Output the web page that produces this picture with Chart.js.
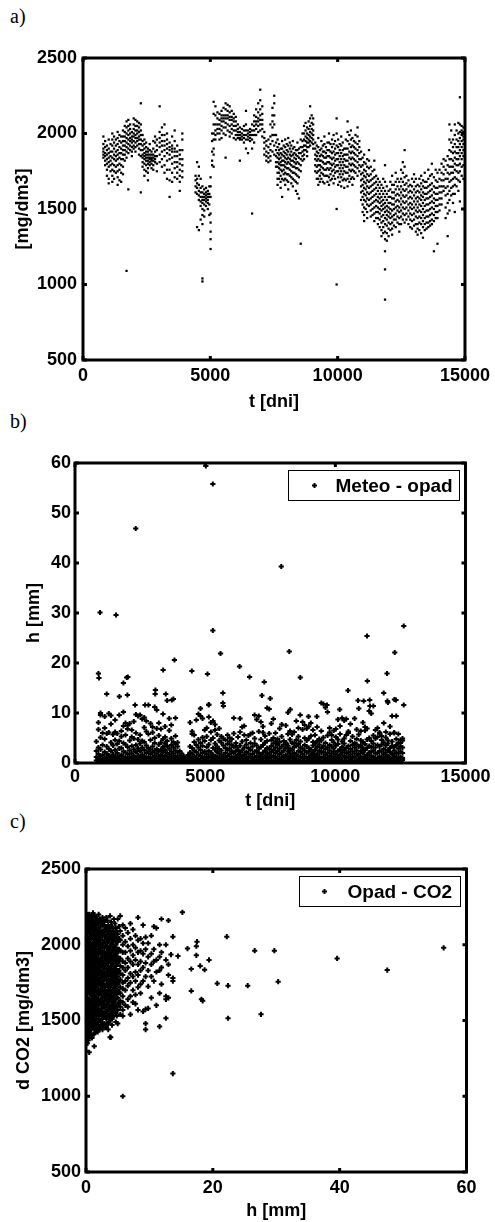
<!DOCTYPE html>
<html>
<head>
<meta charset="utf-8">
<script src="https://cdn.jsdelivr.net/npm/chart.js@4"></script>
<style>
  body { margin: 0; background: #fff; width: 495px; height: 1222px; position: relative; overflow: hidden; }
  .tag { position: absolute; left: 10px; font-family: "Liberation Serif", "Times New Roman", serif; font-size: 20px; line-height: 20px; color: #000; }
  canvas { position: absolute; left: 0; }
</style>
</head>
<body>
<div class="tag" style="top:6px">a)</div>
<div class="tag" style="top:411px">b)</div>
<div class="tag" style="top:811px">c)</div>
<canvas id="chartA" width="495" height="380" style="top:40px"></canvas>
<canvas id="chartB" width="495" height="380" style="top:440px"></canvas>
<canvas id="chartC" width="495" height="382" style="top:840px"></canvas>
<script>
// a) CO2 [mg/dm3] vs time [days] -- columns: [t, values...]
const co2Days800to2300 = [
  [800, 1980,1930,1900,1880,1860,1840],
  [870, 1950,1910,1870,1850,1820,1790],
  [940, 1920,1890,1860,1830,1800,1760,1720],
  [1010, 1960,1900,1870,1840,1810,1780,1700,1670],
  [1080, 1930,1880,1850,1820,1790,1750],
  [1150, 2000,1960,1920,1880,1840,1800,1760,1720,1680],
  [1220, 1980,1940,1900,1860,1830,1790,1750,1700],
  [1290, 1960,1920,1880,1850,1820,1780,1740],
  [1360, 2010,1970,1930,1890,1860,1830,1790,1750,1710,1660],
  [1430, 1990,1950,1910,1870,1840,1800,1760,1690],
  [1500, 1980,1940,1900,1870,1830,1790,1740,1680],
  [1570, 2020,1980,1950,1920,1890,1860,1830,1780,1730],
  [1640, 2050,2010,1980,1950,1920,1890,1860,1820],
  [1710, 2080,2040,2000,1970,1940,1910,1880,1840,1090],
  [1780, 2090,2050,2020,1990,1960,1930,1900,1870,1630],
  [1850, 2060,2030,2000,1970,1950,1920,1890],
  [1920, 2010,1980,1960,1940,1910,1880,1850],
  [1990, 2100,2060,2030,2000,1980,1950,1920,1900],
  [2060, 2090,2050,2020,1990,1970,1940,1910,1880],
  [2130, 2080,2050,2020,2000,1970,1950,1920],
  [2200, 2070,2040,2010,1980,1960,1930,1900,1860],
  [2270, 2200,2060,2020,1990,1960,1930,1890,1850,1610]
];
const co2Days2300to4000 = [
  [2340, 1990,1950,1920,1890,1860,1840,1810,1780],
  [2410, 1960,1930,1900,1870,1850,1830,1800,1760,1720],
  [2480, 1940,1910,1880,1860,1840,1820,1790,1750],
  [2550, 1900,1880,1860,1840,1820,1800,1770,1740,1690],
  [2620, 1930,1890,1860,1840,1830,1810,1790],
  [2690, 1880,1860,1840,1830,1820,1800,1770],
  [2760, 1950,1900,1860,1840,1820,1790,1760],
  [2830, 1980,1940,1880,1850,1830,1810],
  [2900, 1960,1920,1890,1850,1800,1750],
  [3010, 2180,2010,1970,1940,1910,1860,1810],
  [3100, 2040,1990,1950,1920,1880,1830,1780],
  [3200, 2060,1990,1950,1920,1890,1850,1790,1740],
  [3300, 2000,1960,1930,1900,1870,1820,1760,1700],
  [3400, 1940,1910,1890,1860,1830,1760,1690,1580],
  [3500, 1980,1920,1900,1880,1840,1800,1740,1680],
  [3600, 2020,1950,1900,1880,1850,1810,1770,1710],
  [3700, 1920,1880,1850,1810,1780,1740,1700],
  [3800, 1890,1860,1830,1800,1760,1720,1680,1620],
  [3900, 2000,1960,1890,1830,1790,1750,1710]
];
const co2Days4400to5000 = [
  [4420, 1720,1690,1650,1610],
  [4480, 1810,1700,1670,1640,1600,1380],
  [4550, 1780,1720,1660,1620,1590,1560,1360],
  [4620, 1700,1640,1610,1580,1550,1520,1430],
  [4690, 1650,1610,1580,1560,1540,1500,1460,1400,1040,1020],
  [4760, 1630,1600,1580,1560,1530,1490,1450],
  [4830, 1640,1610,1590,1570,1550,1520],
  [4900, 1620,1600,1580,1560,1540,1500],
  [4960, 1650,1600,1580,1530,1460],
  [5010, 1710,1650,1580,1470,1410,1350,1300,1235]
];
const co2Days5000to7500 = [
  [5070, 2000,1950,1880,1820,1790],
  [5130, 2210,2130,2060,2000,1960,1900,1860,1780],
  [5200, 2180,2120,2060,2020,1990,1960],
  [5280, 2140,2100,2060,2030,2000],
  [5360, 2130,2090,2060,2030,2000,1960],
  [5440, 2150,2120,2100,2080,2050,2020,1970],
  [5520, 2170,2120,2100,2080,2040,2000],
  [5600, 2200,2160,2120,2100,2070,2040,1990,1840],
  [5680, 2190,2150,2120,2100,2060,2020],
  [5760, 2180,2140,2110,2090,2050,2010,1980],
  [5840, 2150,2110,2090,2060,2030,2000],
  [5920, 2130,2100,2080,2050,2020,1970],
  [6000, 2110,2080,2050,2020,1990,1960],
  [6080, 2060,2030,2010,1990,1970],
  [6160, 2040,2010,1990,1970,1960,1820],
  [6240, 2030,2000,1980,1960],
  [6320, 2050,2020,1990,1970,1940],
  [6400, 2150,2060,2020,1990,1960,1900],
  [6480, 2020,2000,1980,1960,1870],
  [6560, 2030,2010,1990,1970,1950],
  [6640, 2060,2020,1990,1960,1900,1470],
  [6720, 2120,2080,2050,2020,1990,1940],
  [6800, 2160,2110,2080,2060,2030,1990],
  [6880, 2200,2140,2100,2080,2050,2010],
  [6960, 2290,2220,2160,2120,2090,2060,2020],
  [7040, 2180,2130,2090,2060,2030,1980],
  [7120, 2010,1970,1940,1900,1860],
  [7200, 1950,1920,1880,1850,1820],
  [7280, 1960,1910,1870,1840,1810],
  [7360, 2060,1980,1930,1890,1850,1820],
  [7440, 2170,2120,2080,2040,1990,1950,1880],
  [7510, 2250,2200,2120,2060,1990,1920,1860]
];
const co2Days7500to9100 = [
  [7580, 1990,1940,1890,1850,1810,1780],
  [7640, 1960,1910,1870,1840,1810,1780,1740,1700,1660],
  [7700, 1930,1890,1860,1830,1800,1770,1740,1700],
  [7760, 1900,1870,1840,1810,1790,1760,1720,1680,1640],
  [7820, 1950,1900,1860,1820,1790,1750,1700,1580],
  [7880, 1920,1880,1850,1820,1790,1760,1730,1690],
  [7940, 1960,1910,1870,1840,1810,1780,1740,1700,1660],
  [8000, 1930,1890,1860,1830,1800,1770,1730,1690],
  [8060, 1970,1920,1880,1840,1810,1770,1730,1680,1630],
  [8120, 1940,1900,1860,1830,1800,1760,1720],
  [8180, 1920,1880,1850,1820,1790,1750,1710,1670],
  [8240, 1950,1900,1860,1820,1780,1740,1700,1650],
  [8300, 1910,1870,1840,1810,1780,1740,1690],
  [8360, 1890,1860,1830,1800,1770,1730,1680,1620],
  [8420, 1940,1890,1850,1810,1770,1720,1670,1600],
  [8480, 1900,1870,1840,1800,1760,1710,1570],
  [8550, 1960,1910,1870,1830,1790,1750,1270],
  [8620, 2000,1950,1910,1880,1850,1820],
  [8680, 2050,2000,1960,1920,1890,1860,1830],
  [8740, 2070,2020,1980,1950,1920,1890],
  [8800, 2040,2000,1970,1940,1910,1880,1850],
  [8860, 2080,2030,1990,1960,1940,1910],
  [8920, 2180,2100,2050,2010,1980,1950,1920],
  [8980, 2120,2070,2030,2000,1970,1940],
  [9040, 2100,2060,2020,1990,1960,1930,1900]
];
const co2Days9100to10900 = [
  [9120, 1940,1900,1860,1830,1790,1750],
  [9180, 1920,1880,1850,1820,1780,1740,1700],
  [9240, 1970,1910,1870,1830,1790,1750,1700,1660],
  [9300, 1890,1850,1820,1790,1760,1720,1680],
  [9360, 1950,1900,1860,1820,1780,1740,1700],
  [9420, 1920,1880,1850,1810,1770,1730,1680],
  [9480, 1980,1930,1880,1840,1800,1760,1720,1670],
  [9540, 1910,1870,1840,1800,1760,1720],
  [9600, 1940,1890,1850,1810,1770,1720,1680],
  [9660, 2000,1940,1890,1850,1810,1760,1710,1660],
  [9720, 1930,1880,1840,1800,1770,1730,1690],
  [9780, 1960,1910,1870,1830,1790,1750,1700],
  [9840, 1990,1930,1880,1840,1800,1760,1720,1670],
  [9900, 1950,1900,1860,1820,1780,1740,1700],
  [9960, 2100,2000,1920,1870,1830,1790,1750,1500,1000],
  [10020, 1960,1910,1870,1830,1790,1750,1710,1660],
  [10080, 1930,1890,1850,1810,1770,1730,1680],
  [10140, 1980,1920,1870,1830,1790,1750,1710,1650],
  [10200, 1940,1890,1850,1810,1770,1730,1690],
  [10260, 1900,1860,1830,1790,1750,1700,1640],
  [10320, 1960,1900,1860,1820,1780,1740,1690],
  [10390, 2080,2010,1950,1900,1860,1820,1780,1740,1700,1650],
  [10460, 1990,1930,1880,1840,1800,1760,1720,1680],
  [10520, 2020,1960,1910,1870,1830,1790,1750,1700],
  [10580, 1970,1920,1880,1840,1800,1760,1710,1660],
  [10640, 1950,1910,1870,1830,1790,1750,1700],
  [10700, 1990,1940,1900,1860,1820,1780,1740],
  [10780, 2040,1980,1930,1890,1850,1810,1770,1720],
  [10850, 1950,1910,1870,1830,1790,1750]
];
const co2Days10900to12450 = [
  [10920, 1880,1830,1780,1730,1690,1650,1610,1560],
  [10980, 1840,1790,1740,1700,1660,1620,1580,1530,1480],
  [11040, 1860,1810,1760,1720,1680,1640,1600,1560,1510,1460,1420],
  [11100, 1800,1750,1710,1670,1630,1590,1550,1500],
  [11160, 1830,1780,1730,1690,1650,1610,1570,1530,1480,1440],
  [11230, 1890,1820,1770,1720,1680,1640,1600,1560,1520],
  [11300, 1780,1730,1690,1650,1610,1570,1530,1490,1450],
  [11370, 1750,1700,1660,1620,1580,1540,1500,1460],
  [11440, 1820,1760,1710,1670,1630,1590,1550,1510,1470,1420],
  [11510, 1720,1680,1640,1600,1560,1520,1480,1440],
  [11580, 1700,1660,1620,1580,1550,1510,1480,1440,1400],
  [11650, 1680,1640,1600,1570,1540,1500,1470,1430,1380],
  [11720, 1660,1620,1580,1550,1520,1490,1450,1410,1360,1320],
  [11790, 1700,1640,1600,1560,1530,1500,1460,1420,1380,1340],
  [11860, 1790,1680,1620,1580,1540,1510,1480,1440,1400,1350,1300,1220,1100,900],
  [11930, 1650,1600,1560,1520,1490,1460,1430,1390,1340,1290],
  [12000, 1620,1580,1540,1510,1480,1450,1410,1370,1320],
  [12070, 1680,1630,1580,1540,1500,1470,1440,1400,1360],
  [12140, 1720,1660,1610,1570,1530,1490,1450,1410,1370,1330],
  [12210, 1660,1610,1570,1530,1500,1460,1430,1390],
  [12280, 1740,1680,1630,1590,1550,1510,1470,1430,1380],
  [12350, 1700,1650,1600,1560,1520,1490,1450,1410],
  [12420, 1680,1630,1590,1550,1510,1480,1440,1400,1350]
];
const co2Days12450to15000 = [
  [12490, 1760,1700,1650,1610,1570,1530,1490,1450,1400],
  [12560, 1810,1740,1680,1630,1590,1550,1510,1470,1430],
  [12630, 1890,1780,1710,1660,1620,1580,1540,1500,1460,1410],
  [12700, 1720,1670,1630,1590,1550,1510,1470,1430],
  [12780, 1690,1650,1610,1570,1530,1490,1450,1400],
  [12850, 1660,1620,1580,1540,1510,1470,1430,1380],
  [12920, 1700,1650,1610,1570,1530,1500,1460,1420,1370],
  [13000, 1730,1680,1630,1590,1550,1510,1470,1430,1390],
  [13070, 1700,1650,1610,1570,1530,1490,1450,1400,1350],
  [13140, 1660,1620,1580,1550,1510,1480,1440,1400,1370,1330],
  [13210, 1700,1650,1610,1570,1530,1490,1450,1410,1360],
  [13280, 1720,1670,1630,1590,1560,1520,1480,1440,1400,1340],
  [13350, 1690,1650,1610,1580,1540,1500,1460,1420,1380,1310],
  [13420, 1740,1680,1640,1600,1560,1520,1480,1440,1400,1360],
  [13490, 1680,1640,1600,1570,1530,1490,1450,1410,1370],
  [13560, 1760,1700,1650,1610,1570,1530,1490,1450,1410,1380],
  [13630, 1720,1660,1620,1580,1540,1500,1460,1420,1390],
  [13700, 1800,1730,1670,1630,1590,1550,1510,1470,1430,1400],
  [13780, 1710,1650,1610,1570,1540,1500,1460,1420,1220],
  [13850, 1760,1690,1640,1600,1560,1520,1480,1440],
  [13920, 1740,1680,1640,1600,1560,1520,1480,1440,1270],
  [14000, 1760,1700,1650,1610,1570,1530,1490],
  [14080, 1800,1740,1690,1650,1610,1570,1530],
  [14160, 1830,1780,1730,1690,1650,1620],
  [14240, 1820,1760,1700,1640,1590,1510,1440],
  [14320, 1850,1790,1740,1700,1650,1600,1540,1470,1320],
  [14390, 2060,1960,1890,1830,1780,1730,1680,1620,1560,1490],
  [14460, 2020,1940,1880,1830,1780,1740,1690,1640,1590],
  [14530, 1960,1910,1870,1820,1780,1740,1700,1650,1600,1540],
  [14600, 2060,1990,1930,1880,1840,1800,1760,1710,1660,1600,1480],
  [14670, 2020,1960,1910,1870,1830,1790,1750,1700,1650],
  [14740, 2070,2000,1950,1910,1870,1830,1790,1740,1690,1620],
  [14800, 2240,2060,2010,1970,1930,1890,1850,1800,1750,1680,1550],
  [14870, 2050,2020,1990,1950,1910,1870,1830,1780,1720],
  [14940, 2040,2010,1980,1960,1930,1890,1850,1790,1700,1500]
];

// b) rainfall h [mm] vs time [days] -- columns: [t, values...] plus single high days
const rainDaily = [
  [820, 0,0.5,1.2,2.4,4.3], [900, 0,0.3,0.9,1.8,3.1,6.7,8.1], [980, 0,0.6,1.4,2.7,5.1,10.0,9.6],
  [1060, 0,0.2,0.8,1.6,3.6,6.0], [1140, 0,0.5,1.1,2.2,4.8,9.3,7.0], [1220, 0,0.3,1.0,1.9,3.3,5.9],
  [1300, 0,0.7,1.5,2.8,6.1,9.9], [1380, 0,0.4,1.2,2.4,4.1,7.8,9.5], [1460, 0,0.2,0.9,1.7,3.5,5.7],
  [1540, 0,0.6,1.3,2.6,4.6,6.2,8.6], [1620, 0,0.3,1.0,2.0,3.8,5.9], [1700, 0,0.5,1.4,2.9,4.4,9.6],
  [1780, 0,0.2,0.8,1.6,3.0,5.3,6.4], [1860, 0,0.6,1.2,2.3,4.0,7.4,10.2], [1940, 0,0.4,1.1,2.1,3.7,5.6,8.0],
  [2020, 0,0.3,0.9,1.8,3.2,6.8,7.5], [2100, 0,0.5,1.3,2.5,4.5,7.9], [2180, 0,0.2,1.0,1.9,3.4,5.2,6.6],
  [2260, 0,0.6,1.4,2.7,4.9,8.3], [2340, 0,0.4,1.1,2.2,3.6,6.0,9.7], [2420, 0,0.3,0.8,1.5,2.9,4.7,9.4],
  [2500, 0,0.5,1.2,2.4,3.9,5.6,9.6], [2580, 0,0.2,0.9,1.7,3.1,4.4,8.8], [2660, 0,0.6,1.3,2.6,4.2,7.1,9.1],
  [2740, 0,0.4,1.0,2.0,3.5,6.3,8.4], [2820, 0,0.3,1.2,2.3,3.0,5.8,11.6], [2900, 0,0.5,0.9,1.8,2.7,4.6,7.9],
  [2980, 0,0.2,1.1,2.1,3.3,6.1,7.2], [3060, 0,0.6,1.4,2.5,4.0,5.0,11.2], [3140, 0,0.4,1.0,1.9,2.8,6.9,10.6],
  [3220, 0,0.3,1.3,2.4,3.7,5.5,8.0], [3300, 0,0.5,0.8,1.6,2.6,4.1,6.8], [3380, 0,0.2,1.1,2.2,3.2,4.8,9.8],
  [3460, 0,0.6,1.4,2.6,3.9,5.2,7.3], [3540, 0,0.4,1.2,2.0,3.4,4.4,12.5], [3620, 0,0.3,0.9,1.7,2.9,6.5,8.9],
  [3700, 0,0.5,1.3,2.3,3.6,4.9,7.6], [3780, 0,0.2,1.0,1.9,3.1,4.2,12.8], [3860, 0,0.6,1.4,2.5,3.8,5.4,9.0],
  [3940, 0,0.4,1.1,2.1,3.3,4.1], [4020, 0,0.3,0.8,1.5,2.4], [4100, 0,0.5,1.2,1.9],
  [4180, 0,0.2,0.7,1.3], [4260, 0,0.4,1.0], [4340, 0,0.3,0.9,1.6],
  [4420, 0,0.5,1.2,2.1,3.3,8.1], [4500, 0,0.2,0.9,1.8,3.0,5.8,6.3], [4580, 0,0.6,1.3,2.5,4.2,5.6],
  [4660, 0,0.4,1.1,2.2,3.6,8.6], [4740, 0,0.3,0.8,1.7,3.1,4.7,9.8], [4820, 0,0.5,1.4,2.6,4.0,9.4,10.9],
  [4900, 0,0.2,1.0,2.0,3.4,5.1,8.9], [4980, 0,0.6,1.2,2.3,4.4,6.6], [5060, 0,0.4,0.9,1.8,3.2,5.3,7.0],
  [5140, 0,0.3,1.3,2.4,3.7,11.7,9.2], [5220, 0,0.5,1.1,2.1,4.6,6.2,8.1], [5300, 0,0.2,0.8,1.6,3.0,5.0,8.4],
  [5380, 0,0.6,1.4,2.7,3.9,6.6,7.7], [5460, 0,0.4,1.2,2.2,3.3,5.7], [5540, 0,0.3,1.0,1.9,2.8,4.5,6.9],
  [5620, 0,0.5,1.3,2.5,4.1,5.3], [5700, 0,0.2,0.9,1.7,3.5,11.4,4.9], [5780, 0,0.6,1.1,2.0,3.0,4.6],
  [5860, 0,0.4,1.4,2.6,3.8,5.6], [5940, 0,0.3,0.8,1.8,2.9,4.3,5.0], [6020, 0,0.5,1.2,2.3,3.6,4.8],
  [6100, 0,0.2,1.0,2.0,3.2,5.9,9.0], [6180, 0,0.6,1.3,2.4,3.4,4.0], [6260, 0,0.4,0.9,1.6,2.7,5.2],
  [6340, 0,0.3,1.1,2.1,3.5,8.9,6.2], [6420, 0,0.5,1.4,2.5,4.3,7.2], [6500, 0,0.2,0.8,1.7,3.1,5.6,7.4],
  [6580, 0,0.6,1.2,2.2,3.7,4.6], [6660, 0,0.4,1.0,1.9,3.0,5.5], [6740, 0,0.3,1.3,2.6,4.0,5.8],
  [6820, 0,0.5,0.9,1.8,3.3,6.0], [6900, 0,0.2,1.1,2.3,3.9,9.6,4.9], [6980, 0,0.6,1.4,2.4,3.5,8.7],
  [7060, 0,0.4,1.2,2.0,2.9,6.3,9.4], [7140, 0,0.3,0.8,1.6,3.2,4.7,8.2], [7220, 0,0.5,1.0,2.1,3.6,6.1,7.3],
  [7300, 0,0.2,1.3,2.5,4.1,5.4], [7380, 0,0.6,1.1,1.9,3.0,4.4,11.0], [7460, 0,0.4,0.9,1.7,2.8,5.9,10.8],
  [7540, 0,0.3,1.2,2.2,3.4,4.6,7.9], [7620, 0,0.5,1.4,2.6,3.9,5.0,8.8], [7700, 0,0.2,1.0,2.0,3.1,4.3,6.0],
  [7780, 0,0.6,1.3,2.4,3.6,4.8,4.0], [7860, 0,0.4,0.8,1.8,2.9,4.2,6.9], [7940, 0,0.3,1.1,2.1,3.3,5.3,7.7],
  [8020, 0,0.5,1.4,2.5,3.7,4.4], [8100, 0,0.2,0.9,1.6,3.0,4.1,7.5], [8180, 0,0.6,1.2,2.3,3.5,5.8,10.1],
  [8260, 0,0.4,1.0,1.9,2.8,4.7,6.4], [8340, 0,0.3,1.3,2.6,4.0,5.7], [8420, 0,0.5,1.1,2.0,3.2,4.0,6.2],
  [8500, 0,0.2,0.8,1.7,3.4,4.6,8.4], [8580, 0,0.6,1.4,2.4,3.8,5.3,7.0], [8660, 0,0.4,1.2,2.2,3.1,4.3],
  [8740, 0,0.3,0.9,1.8,2.9,6.7,8.2], [8820, 0,0.5,1.3,2.5,3.6,5.0,7.6], [8900, 0,0.2,1.0,2.1,3.3,4.5,6.9],
  [8980, 0,0.6,1.2,2.3,3.0,4.9,7.3], [9060, 0,0.4,0.8,1.6,2.7,5.4,8.0], [9140, 0,0.3,1.1,2.0,3.5,4.2,6.6],
  [9220, 0,0.5,1.4,2.6,3.9,5.6], [9300, 0,0.2,0.9,1.8,3.2,4.4,7.2], [9380, 0,0.6,1.3,2.4,3.7,4.8],
  [9460, 0,0.4,1.0,2.1,3.0,4.5,6.4], [9540, 0,0.3,1.2,2.2,3.4,5.1,11.8], [9620, 0,0.5,0.8,1.7,2.8,4.0,11.1],
  [9700, 0,0.2,1.1,2.0,3.1,5.5,10.2], [9780, 0,0.6,1.4,2.5,3.6,6.1,7.0], [9860, 0,0.4,0.9,1.9,3.3,4.6,5.6],
  [9940, 0,0.3,1.3,2.3,2.9,4.1,6.5], [10020, 0,0.5,1.0,1.8,3.5,5.2,6.8], [10100, 0,0.2,1.2,2.4,3.8,4.7,8.7],
  [10180, 0,0.6,0.8,1.6,2.7,5.8,7.4], [10260, 0,0.4,1.1,2.1,3.2,4.3,9.0], [10340, 0,0.3,1.4,2.6,3.9,4.9,8.5],
  [10420, 0,0.5,1.0,2.0,3.0,5.6,8.8], [10500, 0,0.2,1.3,2.2,3.4,6.0,6.3], [10580, 0,0.6,0.9,1.7,2.8,4.4,7.8],
  [10660, 0,0.4,1.2,2.3,3.6,5.3], [10740, 0,0.3,1.1,1.9,3.1,4.0,8.9], [10820, 0,0.5,1.4,2.5,3.7,4.8,6.7],
  [10900, 0,0.2,0.8,1.8,3.3,5.7,10.9], [10980, 0,0.6,1.2,2.4,3.5,4.5,6.4], [11060, 0,0.4,1.0,2.0,2.9,4.2,8.1],
  [11140, 0,0.3,1.3,2.6,3.8,6.5,7.2], [11220, 0,0.5,0.9,1.6,3.0,4.7,6.9], [11300, 0,0.2,1.1,2.1,3.4,5.0,10.4],
  [11380, 0,0.6,1.4,2.2,3.2,4.4,9.9], [11460, 0,0.4,1.2,2.5,3.9,5.5,11.4], [11540, 0,0.3,0.8,1.9,3.1,4.9,6.6],
  [11620, 0,0.5,1.0,2.0,3.6,5.2,7.0], [11700, 0,0.2,1.3,2.4,3.3,5.9,6.1], [11780, 0,0.6,1.1,2.3,3.7,4.6,5.4],
  [11860, 0,0.4,0.9,1.7,2.8,4.1,8.0], [11940, 0,0.3,1.2,2.1,3.5,5.1,6.2], [12020, 0,0.5,1.4,2.6,3.9,4.5,12.1],
  [12100, 0,0.2,1.0,2.2,3.0,5.8,7.3], [12180, 0,0.6,0.8,1.8,3.4,4.3,9.4], [12260, 0,0.4,1.3,2.5,3.2,6.0,6.1],
  [12340, 0,0.3,1.1,2.0,3.6,4.8,9.4], [12420, 0,0.5,0.9,1.9,2.9,4.0,5.8], [12500, 0,0.2,1.2,2.3,3.3,4.6,4.0],
  [12580, 0,0.6,1.0,2.0,3.1,4.9,4.5]
];
const rainHeavyDays = [
  [962,30.1],[1577,29.6],[2333,46.9],[5026,59.4],[5295,55.8],[5295,26.5],[7923,39.3],[8231,22.3],
  [11218,25.4],[12628,27.4],[12282,22.1],[5590,21.9],[3820,20.6],[3385,18.6],[4487,18.4],[5090,17.8],
  [6320,19.3],[6705,17.2],[7270,16.2],[8654,17.1],[11230,16.4],[11987,17.9],[900,17.9],[920,17.0],
  [1987,17.1],[2030,17.2],[1860,16.0],[1705,13.3],[1218,13.8],[2013,13.6],[3090,14.6],[3080,13.8],
  [3487,13.8],[2308,11.6],[2692,11.6],[3718,12.6],[5135,11.6],[5680,14.0],[5680,12.0],[10487,14.5],
  [10872,12.5],[11090,12.4],[11320,12.6],[11330,11.4],[11859,14.0],[12270,12.7],[12330,12.6],[12628,11.6],
  [12000,12.4],[7180,13.5],[7500,12.9],[9462,12.0],[10167,10.7],[8269,10.7],[9680,11.6],[8650,9.6],
  [8970,9.3],[9290,9.3]
];

// c) CO2 [mg/dm3] vs rainfall h [mm] -- columns: [h, values...] plus single points
const co2ByRainLight = [
  [0, 2210,2170,2130,2100,2060,2030,1990,1960,1930,1890,1860,1830,1800,1760,1730,1700,1660,1630,1600,1560,1530,1500,1470,1430,1400,1370,1340,1300],
  [0.2, 2190,2150,2110,2080,2040,2010,1970,1940,1910,1880,1840,1810,1780,1740,1710,1680,1650,1610,1580,1550,1510,1480,1450,1410,1380,1350],
  [0.5, 2200,2160,2120,2090,2050,2020,1980,1950,1920,1870,1850,1820,1790,1750,1720,1690,1640,1620,1590,1540,1520,1490,1460,1420,1390],
  [0.8, 2180,2140,2100,2070,2040,2000,1970,1930,1900,1870,1830,1800,1770,1740,1700,1670,1630,1600,1570,1530,1500,1470,1440,1400],
  [1.1, 2210,2160,2120,2090,2050,2010,1980,1950,1910,1880,1850,1810,1780,1750,1710,1680,1650,1610,1580,1550,1510,1480,1450],
  [1.4, 2190,2150,2110,2070,2030,2000,1960,1930,1900,1860,1830,1800,1760,1730,1700,1660,1630,1590,1560,1530,1490,1460,1420],
  [1.7, 2170,2130,2090,2060,2020,1990,1950,1920,1890,1850,1820,1790,1750,1720,1690,1650,1610,1580,1540,1510,1470,1430],
  [2.0, 2200,2150,2110,2070,2040,2000,1970,1940,1900,1870,1840,1800,1770,1740,1700,1670,1630,1600,1560,1530,1490,1450],
  [2.3, 2160,2120,2080,2050,2010,1980,1950,1910,1880,1850,1810,1780,1740,1710,1680,1640,1610,1570,1540,1500,1460],
  [2.6, 2180,2130,2090,2030,1990,1960,1920,1890,1860,1820,1790,1760,1720,1690,1650,1620,1580,1550,1510,1480,1440],
  [2.9, 2150,2100,2060,2020,1980,1940,1910,1870,1840,1800,1770,1730,1700,1660,1630,1590,1550,1520,1480]
];
const co2ByRainLightFill = [
  [0.1, 2150,2080,2010,1945,1875,1815,1745,1685,1615,1545,1485,1420,1355],
  [0.35, 2180,2110,2035,1965,1895,1825,1760,1695,1625,1565,1500,1440,1370],
  [0.65, 2140,2075,2005,1940,1880,1810,1735,1675,1605,1550,1480,1415],
  [0.95, 2195,2120,2055,1990,1920,1855,1790,1725,1660,1590,1520,1460,1385],
  [1.25, 2135,2065,2000,1935,1870,1800,1740,1670,1600,1540,1475,1410],
  [1.55, 2180,2105,2040,1970,1910,1840,1775,1705,1640,1570,1500,1440],
  [1.85, 2150,2085,2015,1950,1880,1815,1750,1685,1620,1555,1490,1425],
  [2.15, 2170,2095,2030,1960,1895,1830,1760,1695,1625,1565,1505,1440],
  [2.45, 2140,2070,2000,1935,1865,1800,1735,1665,1600,1530,1470],
  [2.75, 2165,2080,2010,1945,1880,1815,1745,1680,1610,1545,1465],
  [3.05, 2120,2055,1990,1925,1855,1790,1720,1660,1585,1520,1455],
  [3.35, 2160,2085,2015,1950,1885,1810,1740,1675,1610,1545,1480],
  [3.65, 2110,2045,1975,1910,1830,1765,1700,1640,1575,1510],
  [3.95, 2150,2070,2000,1925,1860,1795,1735,1665,1595,1530],
  [4.25, 2095,2030,1960,1890,1820,1755,1690,1620,1550],
  [4.55, 2140,2055,1985,1915,1845,1780,1715,1645,1575],
  [4.85, 2090,2020,1945,1875,1810,1740,1675,1600,1530],
  [5.2, 2120,2040,1970,1895,1830,1760,1690,1610]
];
const co2ByRainMedium = [
  [3.2, 2180,2100,2040,1990,1950,1900,1860,1820,1770,1730,1690,1640,1600,1560,1510,1460],
  [3.5, 2130,2070,2020,1970,1920,1880,1840,1790,1750,1700,1660,1620,1570,1530,1480,1440],
  [3.8, 2190,2090,2040,1990,1940,1900,1850,1810,1760,1720,1670,1630,1590,1540,1500,1390],
  [4.1, 2120,2060,2010,1960,1910,1870,1830,1780,1740,1690,1650,1600,1560,1510,1470],
  [4.4, 2170,2080,2030,1980,1930,1890,1840,1800,1750,1710,1660,1620,1580,1530],
  [4.7, 2110,2050,2000,1950,1900,1860,1820,1770,1730,1680,1640,1590,1550,1490],
  [5.0, 2170,2070,2020,1970,1920,1880,1830,1790,1740,1700,1650,1610,1570,1480],
  [5.4, 2190,2090,2030,1960,1910,1860,1810,1770,1720,1680,1630,1590,1540],
  [5.8, 2130,2060,2000,1950,1890,1850,1800,1750,1710,1660,1620,1570,1530,1000],
  [6.2, 2110,2020,1950,1880,1830,1760,1700,1600],
  [6.6, 2080,1990,1910,1850,1780,1730,1640,1590],
  [7.0, 2140,2040,1960,1890,1810,1750,1660,1540],
  [7.4, 2100,2000,1930,1870,1790,1700,1620],
  [7.8, 2060,1980,1900,1820,1760,1670,1610],
  [8.2, 2180,2030,1950,1870,1800,1720,1570],
  [8.6, 2040,1960,1890,1830,1740,1680],
  [9.0, 2130,2010,1940,1850,1760,1560],
  [9.4, 2050,1970,1880,1790,1575,1480,1440],
  [9.8, 2010,1920,1830,1725,1580],
  [10.3, 2060,1940,1870,1790,1650],
  [10.7, 2120,1970,1890,1760],
  [11.1, 2110,1900,1820,1600],
  [11.6, 2000,1920,1830,1680,1460],
  [11.9, 2170,1950,1850,1740],
  [12.6, 2000,1900,1660,1640,1515],
  [13.0, 2160,1870,1800,1650],
  [13.7, 2053,1780,1760,1150]
];
const co2ByRainHeavy = [
  [15.2,2214],[22.2,2053],[26.6,1961],[29.7,1961],[39.6,1910],[47.5,1833],[56.4,1980],[30.3,1756],
  [25.5,1730],[22.4,1730],[20.7,1745],[27.6,1541],[22.4,1515],[16.6,1695],[18.2,1640],[18.4,1630],
  [19.4,1900],[17.4,1930],[17.4,1990],[17.5,2020],[16.0,1975],[16.6,1840],[18.0,1860],[18.7,1835],
  [14.5,1925],[13.4,1935],[3.9,1389],[0.5,1290],[1.3,1330]
];

const colsToPoints = cols => cols.flatMap(([x, ...ys]) => ys.map(y => ({ x, y })));
const pairsToPoints = pairs => pairs.map(([x, y]) => ({ x, y }));

const FONT = '"Liberation Sans", Arial, Helvetica, sans-serif';
Chart.defaults.font.family = FONT;
Chart.defaults.color = '#000';

// box, inward tick marks and optional legend, drawn the way the original figure looks
const matlabFrame = {
  id: 'matlabFrame',
  afterDraw(chart, args, opts) {
    const { ctx, chartArea: a, scales: { x, y } } = chart;
    ctx.save();
    ctx.strokeStyle = '#000';
    ctx.lineWidth = 3;
    ctx.strokeRect(a.left, a.top, a.right - a.left, a.bottom - a.top);
    const len = 4;
    ctx.beginPath();
    x.ticks.forEach(t => {
      const px = x.getPixelForValue(t.value);
      ctx.moveTo(px, a.bottom); ctx.lineTo(px, a.bottom - len);
      ctx.moveTo(px, a.top); ctx.lineTo(px, a.top + len);
    });
    y.ticks.forEach(t => {
      const py = y.getPixelForValue(t.value);
      ctx.moveTo(a.left, py); ctx.lineTo(a.left + len, py);
      ctx.moveTo(a.right, py); ctx.lineTo(a.right - len, py);
    });
    ctx.stroke();

    if (opts.label) {
      const w = opts.width, h = 30;
      const bx = Math.round(a.right - 7 - w) + 0.5, by = Math.round(a.top + 7) + 0.5;
      ctx.fillStyle = '#fff';
      ctx.fillRect(bx, by, w, h);
      ctx.lineWidth = 1;
      ctx.strokeRect(bx, by, w, h);
      const mx = bx + opts.markerX, my = by + h / 2;
      ctx.lineWidth = 2;
      ctx.beginPath();
      ctx.moveTo(mx - 2.5, my); ctx.lineTo(mx + 2.5, my);
      ctx.moveTo(mx, my - 2.5); ctx.lineTo(mx, my + 2.5);
      ctx.stroke();
      ctx.fillStyle = '#000';
      ctx.font = 'bold 19px ' + FONT;
      ctx.textBaseline = 'middle';
      ctx.textAlign = 'left';
      ctx.fillText(opts.label, bx + opts.textX, my + 1);
    }
    ctx.restore();
  }
};

function makeAxis(cfg) {
  return {
    type: 'linear',
    min: cfg.min,
    max: cfg.max,
    grid: { display: false, drawTicks: false },
    border: { display: false },
    ticks: {
      stepSize: cfg.step, padding: cfg.tickPad, maxRotation: 0,
      font: { size: 18, weight: 'bold' },
      callback: v => String(v)
    },
    title: { display: true, text: cfg.title, font: { size: 18, weight: 'bold' }, padding: cfg.titlePad },
    afterFit: cfg.fit
  };
}

function makeChart(id, datasets, opt) {
  return new Chart(document.getElementById(id), {
    type: 'scatter',
    data: { datasets },
    options: {
      responsive: false,
      animation: false,
      events: [],
      layout: { padding: { top: opt.padTop, right: opt.padRight, left: 0, bottom: 0 } },
      plugins: { legend: { display: false }, tooltip: { enabled: false }, matlabFrame: opt.legend || {} },
      scales: { x: makeAxis(opt.x), y: makeAxis(opt.y) }
    },
    plugins: [matlabFrame]
  });
}

const dotStyle = { pointStyle: 'rect', pointRadius: 1.6, pointBackgroundColor: '#000', pointBorderWidth: 0, showLine: false };
const plusStyle = { pointStyle: 'cross', pointRadius: 2.6, pointBorderColor: '#000', pointBorderWidth: 2, showLine: false };

const co2Series = [co2Days800to2300, co2Days2300to4000, co2Days4400to5000, co2Days5000to7500,
  co2Days7500to9100, co2Days9100to10900, co2Days10900to12450, co2Days12450to15000];

makeChart('chartA', [{ label: 'CO2', data: co2Series.flatMap(colsToPoints), ...dotStyle }], {
  padTop: 18, padRight: 29,
  x: { min: 0, max: 15000, step: 5000, title: 't [dni]', tickPad: 5, titlePad: { top: 0, bottom: 7 }, fit: s => { s.height = 60; } },
  y: { min: 500, max: 2500, step: 500, title: '[mg/dm3]', tickPad: 6, titlePad: { top: 12, bottom: 0 }, fit: s => { s.width = 83; } }
});

makeChart('chartB', [{ label: 'Meteo - opad', data: [...colsToPoints(rainDaily), ...pairsToPoints(rainHeavyDays)], ...plusStyle }], {
  padTop: 23, padRight: 29.5,
  legend: { label: 'Meteo - opad', width: 171, markerX: 26, textX: 47 },
  x: { min: 0, max: 15000, step: 5000, title: 't [dni]', tickPad: 3, titlePad: { top: 0, bottom: 8 }, fit: s => { s.height = 57; } },
  y: { min: 0, max: 60, step: 10, title: 'h [mm]', tickPad: 4, titlePad: { top: 23, bottom: 0 }, fit: s => { s.width = 75; } }
});

const co2ByRain = [co2ByRainLight, co2ByRainLightFill, co2ByRainMedium].flatMap(colsToPoints);

makeChart('chartC', [{ label: 'Opad - CO2', data: [...co2ByRain, ...pairsToPoints(co2ByRainHeavy)], ...plusStyle }], {
  padTop: 29, padRight: 28.5,
  legend: { label: 'Opad - CO2', width: 161, markerX: 25, textX: 48 },
  x: { min: 0, max: 60, step: 20, title: 'h [mm]', tickPad: 5, titlePad: { top: 0, bottom: 0 }, fit: s => { s.height = 50; } },
  y: { min: 500, max: 2500, step: 500, title: 'd CO2 [mg/dm3]', tickPad: 5, titlePad: { top: 13, bottom: 0 }, fit: s => { s.width = 86; } }
});
</script>
</body>
</html>
